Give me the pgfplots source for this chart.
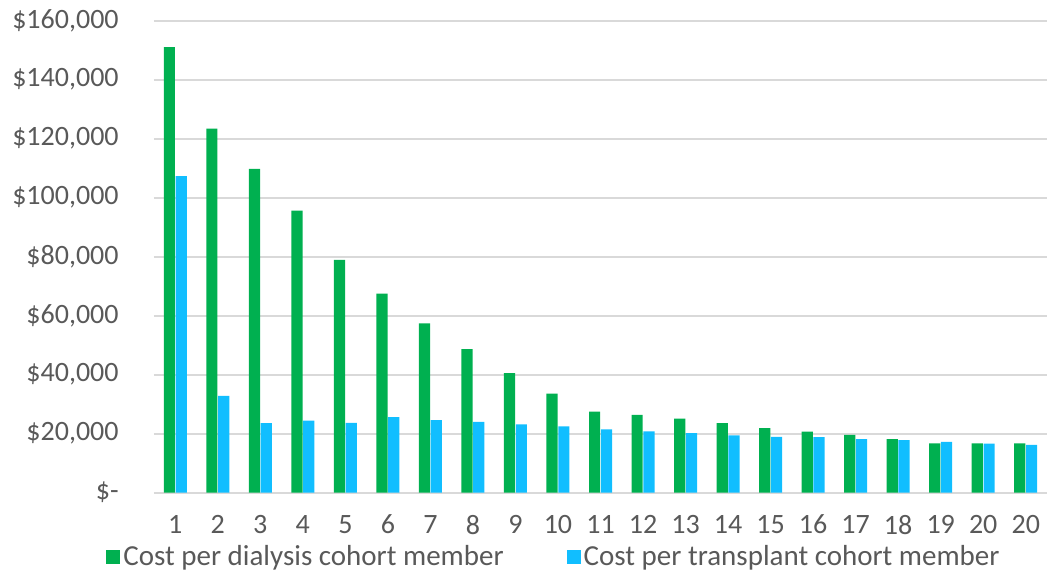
\documentclass[border=0pt]{standalone}
\usepackage{pgfplots}
\pgfplotsset{compat=1.18}
\usepackage{pgfplotstable}
\usepackage{fontspec}
\setmainfont{Carlito}
\definecolor{dialgreen}{HTML}{00B050}
\definecolor{txblue}{RGB}{17,190,255}
\definecolor{txtgray}{HTML}{595959}
\definecolor{gridgray}{HTML}{D9D9D9}

% year, dialysis cost, transplant cost (per cohort member)
\pgfplotstableread{
x  dial   trans
1  151000 107300
2  123400 32800
3  109800 23600
4  95600  24400
5  78900  23700
6  67500  25600
7  57400  24600
8  48700  24000
9  40500  23200
10 33600  22500
11 27500  21500
12 26400  20800
13 25100  20200
14 23600  19400
15 21900  18900
16 20700  18800
17 19600  18200
18 18200  17800
19 16700  17200
20 16700  16600
21 16700  16200
}\costs

\begin{document}
\begin{tikzpicture}[font=\fontsize{14}{16}\selectfont]
\useasboundingbox (-77pt,-41.65pt) rectangle (448pt,246.35pt);
\begin{axis}[
	scale only axis, width=446.5pt, height=236pt,
	xmin=0.5, xmax=21.5, ymin=0, ymax=160000,
	ybar=0.3pt, bar width=5.6pt,
	axis x line*=bottom, axis y line*=left,
	x axis line style={gridgray, line width=1pt, -},
	y axis line style={draw=none},
	major tick length=0pt,
	ymajorgrids, grid style={gridgray, line width=1pt},
	xtick={1,...,21},
	xticklabels={1,2,3,4,5,6,7,8,9,10,11,12,13,14,15,16,17,18,19,20,20},
	ytick={0,20000,...,160000},
	yticklabels={{\$-\hspace{6pt}},{\$20,000},{\$40,000},{\$60,000},{\$80,000},
		{\$100,000},{\$120,000},{\$140,000},{\$160,000}},
	scaled y ticks=false,
	tick label style={text=txtgray},
	yticklabel style={anchor=east, inner sep=0pt, xshift=-17.5pt},
	xticklabel style={anchor=north, inner sep=0pt, yshift=-11pt},
	legend columns=2,
	legend style={at={(0,0)}, anchor=west, xshift=-24pt, yshift=-32pt,
		draw=none, fill=none, inner sep=0pt, text=txtgray,
		font=\fontsize{14.5}{16}\selectfont,
		nodes={inner sep=1.5pt}, cells={anchor=west},
		/tikz/every even column/.append style={column sep=30pt}},
]
\addplot[fill=dialgreen, draw=none,
	legend image code/.code={\fill[dialgreen] (0pt,-3.5pt) rectangle (7pt,3.5pt);}]
	table[x=x, y=dial]{\costs};
\addplot[fill=txblue, draw=none,
	legend image code/.code={\fill[txblue] (0pt,-3.5pt) rectangle (7pt,3.5pt);}]
	table[x=x, y=trans]{\costs};
\legend{Cost per dialysis cohort member, Cost per transplant cohort member}
\end{axis}
\end{tikzpicture}
\end{document}
